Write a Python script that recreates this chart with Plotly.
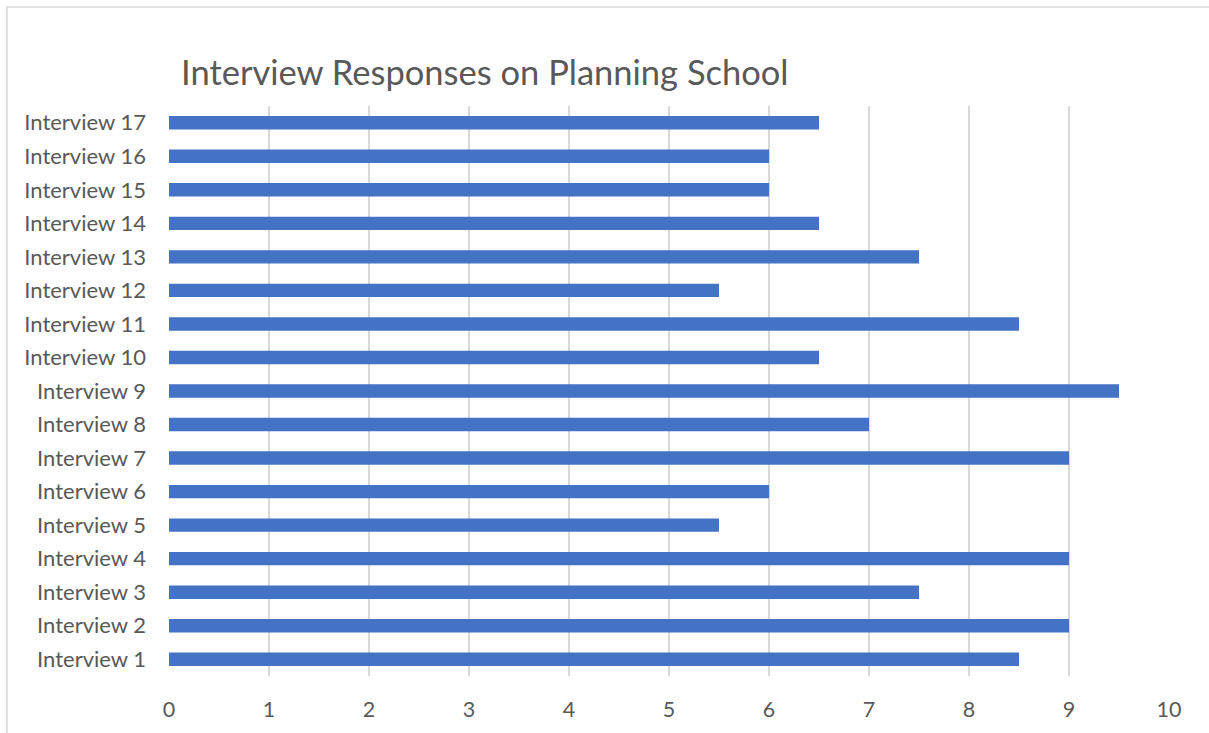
import plotly.graph_objects as go

# Interview scores, bottom to top (Interview 1 first)
interviews = [f"Interview {i}" for i in range(1, 18)]
scores = [8.5, 9, 7.5, 9, 5.5, 6, 9, 7, 9.5, 6.5, 8.5, 5.5, 7.5, 6.5, 6, 6, 6.5]
x_ticks = list(range(0, 11))

W, H = 1209, 733
FONT = "Lato, 'Open Sans', sans-serif"
TEXT = "#595959"

fig = go.Figure(
    go.Bar(
        x=scores,
        y=interviews,
        orientation="h",
        width=0.4,
        marker=dict(color="#4472C4", line=dict(width=0)),
        hoverinfo="x+y",
    )
)

fig.update_layout(
    width=W,
    height=H,
    margin=dict(l=169, r=40, t=106, b=57),
    paper_bgcolor="white",
    plot_bgcolor="white",
    showlegend=False,
    title=dict(
        text="Interview Responses on Planning School",
        font=dict(family=FONT, size=34.5, color=TEXT),
        x=181 / W,
        xref="container",
        xanchor="left",
        y=1 - 73 / H,
        yref="container",
        yanchor="middle",
    ),
    xaxis=dict(
        range=[0, 10],
        tickvals=x_ticks,
        showgrid=True,
        gridcolor="#d9d9d9",
        gridwidth=1.5,
        zeroline=False,
        showline=False,
        ticks="",
        tickfont=dict(family=FONT, size=21.5, color=TEXT),
        ticklabelstandoff=18,
    ),
    yaxis=dict(
        categoryorder="array",
        categoryarray=interviews,
        range=[-0.5, 16.5],
        showgrid=False,
        zeroline=False,
        showline=False,
        ticks="",
        tickfont=dict(family=FONT, size=22, color=TEXT),
        ticklabelstandoff=22,
    ),
    shapes=[
        # light frame around the chart area
        dict(
            type="rect",
            xref="paper",
            yref="paper",
            x0=-162 / 1000,
            x1=1.2,
            y0=-0.2,
            y1=1 + 99 / 570,
            line=dict(color="#d9d9d9", width=1.5),
            fillcolor="rgba(0,0,0,0)",
            layer="below",
        )
    ],
)

fig.write_html("out.html")
